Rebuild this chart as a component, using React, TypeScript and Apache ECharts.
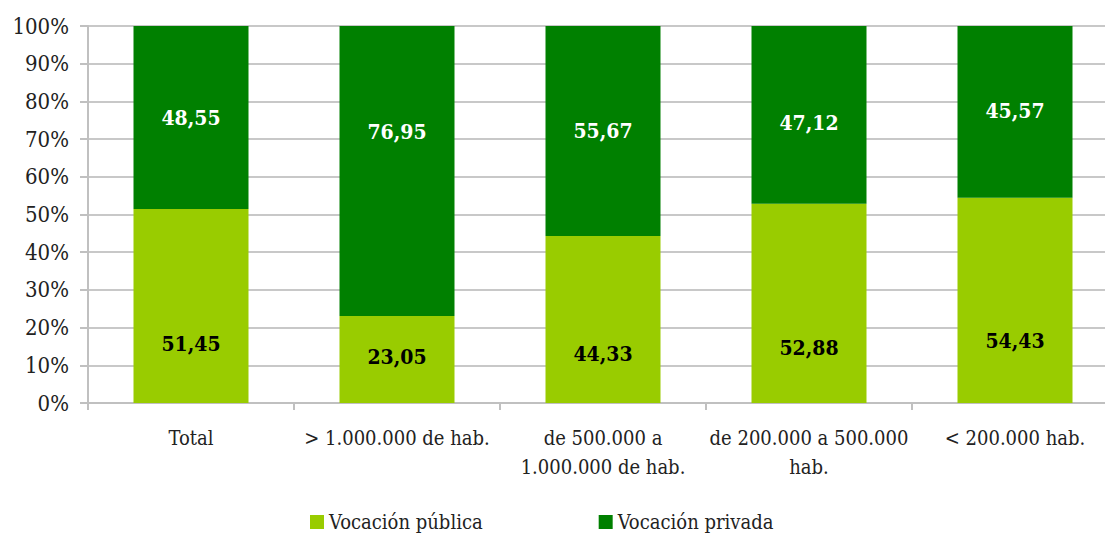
import React, { useEffect, useRef } from "react";
import * as echarts from "echarts";

const categories = [
  "Total",
  "> 1.000.000 de hab.",
  "de 500.000 a\n1.000.000 de hab.",
  "de 200.000 a 500.000\nhab.",
  "< 200.000 hab.",
];
const publica = [51.45, 23.05, 44.33, 52.88, 54.43];
const privada = [48.55, 76.95, 55.67, 47.12, 45.57];
const yTicks = [0, 10, 20, 30, 40, 50, 60, 70, 80, 90, 100];

// label vertical offsets (px) to mimic hand-placed labels in the original
const publicaLabelDy = [37, -3, 34, 44, 40];
const privadaLabelDy = [0, -40, 0, 8, -1];

const FONT = "DejaVu Serif Condensed";

export default function App() {
  const ref = useRef<HTMLDivElement>(null);
  useEffect(() => {
    if (!ref.current) return;
    const chart = echarts.init(ref.current, undefined, { renderer: "svg" });
    const fmt = (p: any) => p.value.toFixed(2).replace(".", ",");
    chart.setOption({
      animation: false,
      textStyle: { fontFamily: FONT },
      legend: {
        left: 310,
        top: 512,
        padding: 0,
        itemWidth: 14,
        itemHeight: 14,
        itemGap: 116,
        icon: "rect",
        textStyle: { fontFamily: FONT, fontSize: 20, fontWeight: "normal", color: "#222" },
        data: ["Vocación pública", "Vocación privada"],
      },
      grid: { left: 88, right: 2, top: 26, bottom: 131, containLabel: false },
      xAxis: {
        type: "category",
        data: categories,
        axisLine: { show: true, lineStyle: { color: "#c0c0c0", width: 2 } },
        axisTick: { show: true, length: 7, lineStyle: { color: "#c0c0c0", width: 2 } },
        axisLabel: {
          fontFamily: FONT,
          fontWeight: "normal",
          fontSize: 20,
          color: "#222",
          margin: 20,
          lineHeight: 29,
          interval: 0,
        },
      },
      yAxis: {
        type: "value",
        min: 0,
        max: 100,
        interval: 10,
        axisLine: { show: true, lineStyle: { color: "#c0c0c0", width: 2 } },
        axisTick: { show: true, length: 8, lineStyle: { color: "#c0c0c0", width: 2 } },
        splitLine: { show: true, lineStyle: { color: "#c8c8c8", width: 2 } },
        axisLabel: {
          fontFamily: FONT,
          fontWeight: "normal",
          fontSize: 22,
          color: "#222",
          margin: 19,
          formatter: (v: number) => (yTicks.includes(v) ? v + "%" : ""),
        },
      },
      series: [
        {
          name: "Vocación pública",
          type: "bar",
          stack: "s",
          barWidth: 115,
          itemStyle: { color: "#99cc00" },
          data: publica.map((v, i) => ({
            value: v,
            label: { offset: [0, publicaLabelDy[i]] },
          })),
          label: {
            show: true,
            position: "inside",
            formatter: fmt,
            fontFamily: FONT,
            fontSize: 21,
            fontWeight: "bold",
            color: "#000",
          },
        },
        {
          name: "Vocación privada",
          type: "bar",
          stack: "s",
          barWidth: 115,
          itemStyle: { color: "#008000" },
          data: privada.map((v, i) => ({
            value: v,
            label: { offset: [0, privadaLabelDy[i]] },
          })),
          label: {
            show: true,
            position: "inside",
            formatter: fmt,
            fontFamily: FONT,
            fontSize: 21,
            fontWeight: "bold",
            color: "#fff",
          },
        },
      ],
    });
    return () => chart.dispose();
  }, []);
  return (
    <div
      style={{
        position: "absolute",
        left: 0,
        top: 0,
        width: 1105,
        height: 534,
        overflow: "hidden",
        background: "#fff",
      }}
    >
      <div ref={ref} style={{ width: 1120, height: 534 }} />
    </div>
  );
}
